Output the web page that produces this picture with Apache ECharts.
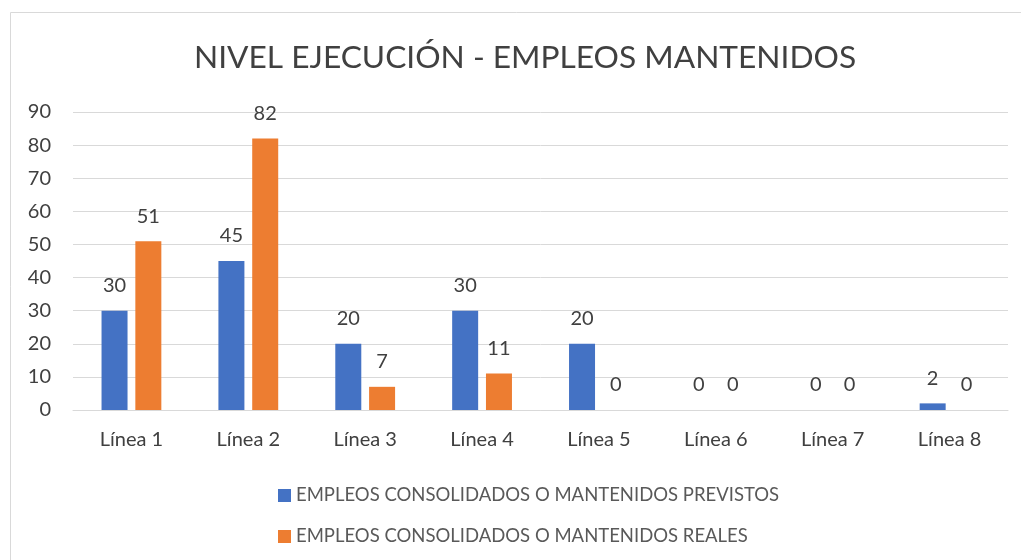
<!DOCTYPE html>
<html>
<head>
<meta charset="utf-8">
<script src="https://cdn.jsdelivr.net/npm/echarts@6/dist/echarts.min.js"></script>
<style>
  html, body { margin: 0; padding: 0; background: #fff; }
  #chart { width: 1021px; height: 560px; }
</style>
</head>
<body>
<div id="chart"></div>
<script>
//data
var categories = ['Línea 1', 'Línea 2', 'Línea 3', 'Línea 4', 'Línea 5', 'Línea 6', 'Línea 7', 'Línea 8'];
var previstos = [30, 45, 20, 30, 20, 0, 0, 2];
var reales = [51, 82, 7, 11, 0, 0, 0, 0];
var seriesNames = ['EMPLEOS CONSOLIDADOS O MANTENIDOS PREVISTOS', 'EMPLEOS CONSOLIDADOS O MANTENIDOS REALES'];
var FONT = 'Lato';

var chart = echarts.init(document.getElementById('chart'));

function barSerie(name, data, color) {
	return {
		name: name,
		type: 'bar',
		data: data,
		barWidth: 26,
		barGap: '30%',
		itemStyle: { color: color },
		label: {
			show: true,
			position: 'top',
			distance: 15,
			color: '#404040',
			fontFamily: FONT,
			fontSize: 20
		}
	};
}

chart.setOption({
	animation: false,
	title: {
		text: 'NIVEL EJECUCIÓN - EMPLEOS MANTENIDOS',
		left: 189,
		top: 37,
		textStyle: { fontFamily: FONT, fontSize: 31.7, fontWeight: 'normal', color: '#404040' }
	},
	graphic: [{
		type: 'rect',
		shape: { x: 10.5, y: 12.5, width: 1030, height: 560 },
		style: { fill: 'none', stroke: '#d9d9d9', lineWidth: 1 },
		silent: true
	}],
	legend: {
		orient: 'vertical',
		left: 273,
		top: 481,
		itemWidth: 13,
		itemHeight: 13,
		itemGap: 22,
		icon: 'rect',
		textStyle: { fontFamily: FONT, fontSize: 18.5, color: '#595959' },
		data: seriesNames
	},
	grid: { left: 73, right: 13, top: 112, bottom: 150 },
	xAxis: {
		type: 'category',
		data: categories,
		axisTick: { show: false },
		axisLine: { lineStyle: { color: '#d9d9d9', width: 1 } },
		axisLabel: { fontFamily: FONT, fontSize: 20, color: '#404040', margin: 20 }
	},
	yAxis: {
		type: 'value',
		min: 0,
		max: 90,
		interval: 10,
		axisLine: { show: false },
		axisTick: { show: false },
		splitLine: { lineStyle: { color: '#d9d9d9', width: 1 } },
		axisLabel: { fontFamily: FONT, fontSize: 20, color: '#404040', margin: 22 }
	},
	series: [
		barSerie(seriesNames[0], previstos, '#4472c4'),
		barSerie(seriesNames[1], reales, '#ed7d31')
	]
});
</script>
</body>
</html>
